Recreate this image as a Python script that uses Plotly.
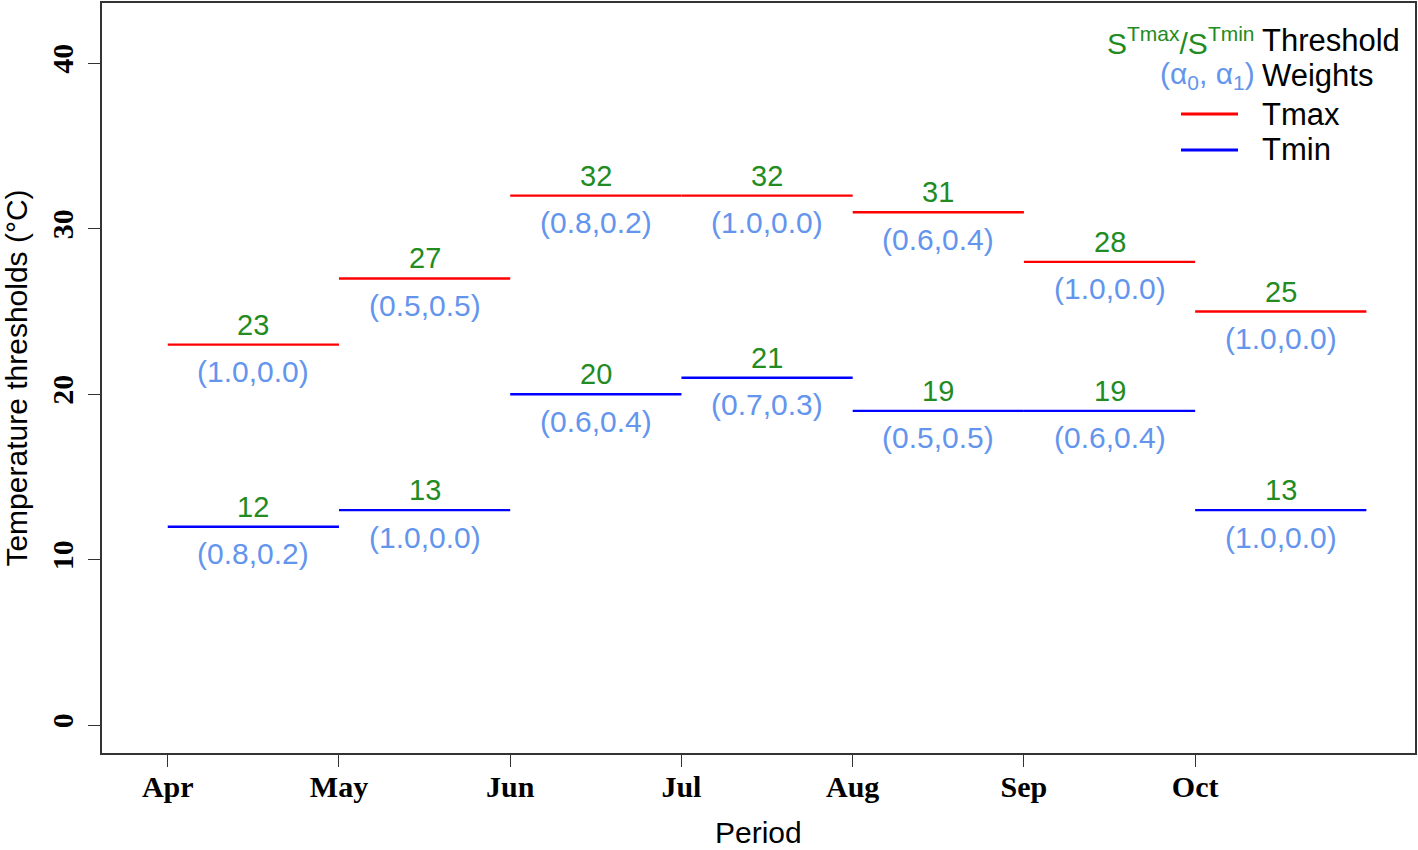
import plotly.graph_objects as go

months = ["Apr", "May", "Jun", "Jul", "Aug", "Sep", "Oct"]
tmax_vals = [23, 27, 32, 32, 31, 28, 25]
tmax_weights = ["(1.0,0.0)", "(0.5,0.5)", "(0.8,0.2)", "(1.0,0.0)", "(0.6,0.4)", "(1.0,0.0)", "(1.0,0.0)"]
tmin_vals = [12, 13, 20, 21, 19, 19, 13]
tmin_weights = ["(0.8,0.2)", "(1.0,0.0)", "(0.6,0.4)", "(0.7,0.3)", "(0.5,0.5)", "(0.6,0.4)", "(1.0,0.0)"]
yticks = [0, 10, 20, 30, 40]

GREEN = "#228B22"
WBLUE = "#6495ED"
SANS = "Liberation Sans, Arial, sans-serif"
SERIF = "Liberation Serif, Times New Roman, serif"
FS = 30

fig = go.Figure()

def seg(vals):
    xs, ys = [], []
    for i, v in enumerate(vals):
        xs += [i, i + 1, None]
        ys += [v, v, None]
    return xs, ys

for vals, col, name in [(tmax_vals, "red", "Tmax"), (tmin_vals, "blue", "Tmin")]:
    xs, ys = seg(vals)
    fig.add_trace(go.Scatter(x=xs, y=ys, mode="lines", line=dict(color=col, width=2.4),
                             name=name, showlegend=False, hoverinfo="skip"))

annotations = []
for vals, wts in [(tmax_vals, tmax_weights), (tmin_vals, tmin_weights)]:
    for i, (v, w) in enumerate(zip(vals, wts)):
        annotations.append(dict(x=i + 0.5, y=v, xref="x", yref="y", text=str(v), showarrow=False,
                                yanchor="middle", yshift=20, font=dict(family=SANS, size=FS - 1, color=GREEN)))
        annotations.append(dict(x=i + 0.5, y=v, xref="x", yref="y", text=w, showarrow=False,
                                yanchor="middle", yshift=-27, font=dict(family=SANS, size=FS, color=WBLUE)))

# legend (paper coords)
W, H = 1418, 850
L, R, T, B = 102, 3, 3, 97
pw, ph = W - L - R, H - T - B
def px(x): return (x - L) / pw
def py(y): return 1 - (y - T) / ph

legend_rows = [
    ("S<sup>Tmax</sup>/S<sup>Tmin</sup>", GREEN, "Threshold", 41),
    ("(α<sub>0</sub>, α<sub>1</sub>)", WBLUE, "Weights", 76),
]
for key, kc, lab, yy in legend_rows:
    annotations.append(dict(x=px(1257), y=py(yy), xref="paper", yref="paper", text=key, showarrow=False,
                            xanchor="right", yanchor="middle", font=dict(family=SANS, size=FS, color=kc)))
    annotations.append(dict(x=px(1260), y=py(yy), xref="paper", yref="paper", text=lab, showarrow=False,
                            xanchor="left", yanchor="middle", font=dict(family=SANS, size=FS + 1, color="black")))
shapes = []
for lab, col, yy in [("Tmax", "red", 114), ("Tmin", "blue", 150)]:
    shapes.append(dict(type="line", xref="paper", yref="paper", x0=px(1181), x1=px(1238),
                       y0=py(yy), y1=py(yy), line=dict(color=col, width=3)))
    annotations.append(dict(x=px(1260), y=py(yy), xref="paper", yref="paper", text=lab, showarrow=False,
                            xanchor="left", yanchor="middle", font=dict(family=SANS, size=FS + 1, color="black")))

# x-axis title placed as annotation
annotations.append(dict(x=0.5, y=py(832), xref="paper", yref="paper", text="Period", showarrow=False,
                        xanchor="center", yanchor="middle", font=dict(family=SANS, size=FS, color="black")))

fig.update_layout(
    width=W, height=H,
    margin=dict(l=L, r=R, t=T, b=B, autoexpand=False),
    plot_bgcolor="white", paper_bgcolor="white",
    annotations=annotations, shapes=shapes,
    showlegend=False,
)
fig.update_xaxes(range=[-0.384, 7.284], tickvals=list(range(len(months))), ticktext=months,
                 automargin=False,
                 showgrid=False, zeroline=False, showline=True, mirror=True, linecolor="#333", linewidth=1.6,
                 ticks="outside", ticklen=12, tickwidth=1.3, tickcolor="#333", ticklabelstandoff=-6,
                 tickfont=dict(family=SERIF, size=FS, color="black", weight="bold"))
fig.update_yaxes(range=[-1.67, 43.64], tickvals=yticks, ticktext=[str(t) for t in yticks], tickangle=-90,
                 automargin=False,
                 showgrid=False, zeroline=False, showline=True, mirror=True, linecolor="#333", linewidth=1.6,
                 ticks="outside", ticklen=12, tickwidth=1.3, tickcolor="#333", ticklabelstandoff=3,
                 tickfont=dict(family=SERIF, size=FS, color="black", weight="bold"),
                 title=dict(text="Temperature thresholds (°C)", font=dict(family=SANS, size=FS, color="black"), standoff=18))

fig.write_html("out.html", config={"displayModeBar": False},
               post_script="document.body.style.margin='0';")
